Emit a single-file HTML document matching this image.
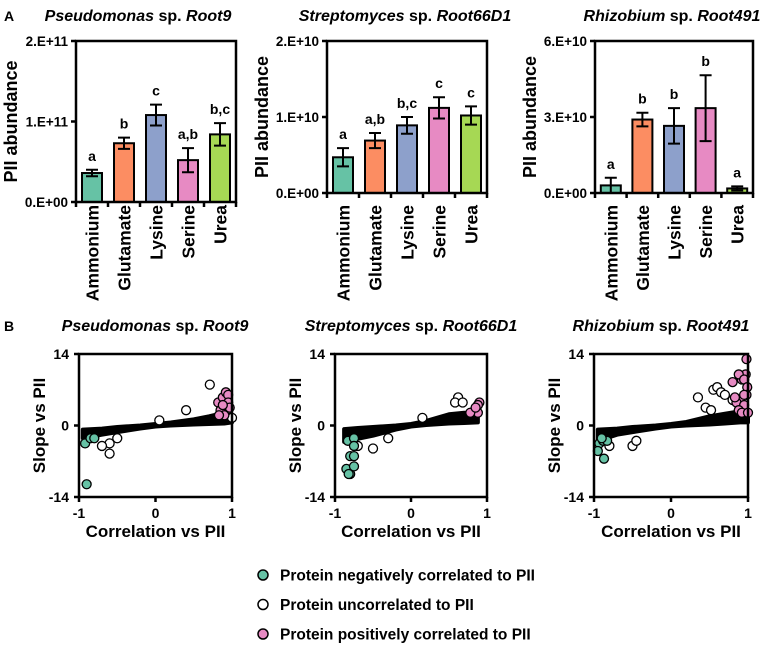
<!DOCTYPE html>
<html><head><meta charset="utf-8"><style>
body{margin:0;background:#fff;width:770px;height:649px;overflow:hidden}
svg{font-family:"Liberation Sans",Arial,sans-serif;font-weight:bold}
</style></head><body>
<svg id="c" width="770" height="649" xmlns="http://www.w3.org/2000/svg"></svg>
<script>
const categories=["Ammonium","Glutamate","Lysine","Serine","Urea"];
const colors=["#66c2a5","#fc8d62","#8da0cb","#e78ac3","#a6d854"];
const pseudoVals=[0.36,0.73,1.08,0.52,0.84];
const pseudoErr=[0.04,0.07,0.13,0.15,0.14];
const pseudoLetters=["a","b","c","a,b","b,c"];
const strepVals=[0.47,0.69,0.89,1.12,1.02];
const strepErr=[0.12,0.10,0.11,0.14,0.12];
const strepLetters=["a","a,b","b,c","c","c"];
const rhizoVals=[0.3,2.9,2.65,3.35,0.18];
const rhizoErr=[0.3,0.27,0.7,1.3,0.08];
const rhizoLetters=["a","b","b","b","a"];
const pseudoTicks=["0.E+00","1.E+11","2.E+11"];
const strepTicks=["0.E+00","1.E+10","2.E+10"];
const rhizoTicks=["0.E+00","3.E+10","6.E+10"];
const pseudoBandX=[-0.95,-0.7,-0.5,-0.2,0,0.2,0.5,0.7,0.9,1.0];
const pseudoBandLo=[-2.5,-1.8,-1.3,-0.6,-0.2,0,0.2,0.3,0.4,0.6];
const pseudoBandHi=[-0.8,-0.6,-0.3,0,0.3,0.6,1.2,1.8,2.5,1.8];
const pseudoOpen=[[0.71,8],[0.4,3],[-0.6,-3.5],[-0.6,-5.5],[-0.7,-4],[-0.5,-2.5],[1.0,1.5],[0.05,1]];
const pseudoNeg=[[-0.92,-3.5],[-0.85,-2.5],[-0.8,-2.5],[-0.9,-11.5]];
const pseudoPos=[[0.82,4.5],[0.88,5.5],[0.92,6.5],[0.95,6],[0.95,4.5],[0.93,3],[0.85,3],[0.9,2],[0.83,2],[0.97,3.5],[0.88,4]];
const strepBandX=[-0.88,-0.7,-0.5,-0.2,0,0.2,0.5,0.7,0.88];
const strepBandLo=[-3.2,-2.6,-2,-0.8,-0.2,0.1,0.4,0.5,0.6];
const strepBandHi=[-0.7,-0.5,-0.3,0,0.3,0.9,2.2,2.5,2.2];
const strepOpen=[[0.62,5.5],[0.58,4.5],[0.68,4.5],[-0.5,-4.5],[-0.3,-2.5],[-0.7,-4],[0.15,1.5]];
const strepNeg=[[-0.83,-3],[-0.75,-2.5],[-0.75,-4],[-0.8,-6],[-0.75,-6],[-0.85,-8.5],[-0.8,-9.5],[-0.75,-8],[-0.82,-9.5]];
const strepPos=[[0.9,4.5],[0.88,4],[0.88,2.5],[0.78,2.5],[0.85,3.5]];
const rhizoBandX=[-0.95,-0.7,-0.5,-0.2,0,0.2,0.5,0.7,0.9,1.0];
const rhizoBandLo=[-3,-1.8,-1.3,-0.6,-0.2,0,0.2,0.4,0.6,0.6];
const rhizoBandHi=[-0.8,-0.6,-0.3,0,0.3,0.7,1.8,2.3,2.8,2.8];
const rhizoOpen=[[0.35,5.5],[0.55,7],[0.6,7.5],[0.65,6.5],[0.7,6],[0.45,3.5],[0.52,3],[-0.5,-4],[-0.8,-4],[-0.45,-3],[0.8,5]];
const rhizoNeg=[[-0.93,-3.5],[-0.88,-3],[-0.83,-3],[-0.95,-5],[-0.87,-6.5],[-0.9,-2.5]];
const rhizoPos=[[0.98,13],[0.97,10],[0.92,9],[0.88,10],[0.8,8.5],[0.95,9],[0.99,7.5],[0.98,6],[0.9,5],[0.85,4.5],[0.95,4],[0.88,3],[0.92,2.5],[1,2.5],[0.95,6],[0.83,5.5]];

const S=document.getElementById('c');const NS="http://www.w3.org/2000/svg";
function el(t,a,txt,p){const e=document.createElementNS(NS,t);for(const k in a)e.setAttribute(k,a[k]);if(txt!=null)e.textContent=txt;(p||S).appendChild(e);return e;}

function title(x,y,genus,strain,name){
 const t=el('text',{x:x,y:y,'font-size':16,'text-anchor':'middle'});
 
 
 el('tspan',{'font-style':'italic'},genus,t);el('tspan',{},' sp. ',t);el('tspan',{'font-style':'italic'},strain,t);
}

function barChart(name,x0,x1,yTop,y0,ymax,vals,errs,letters,ticks){
 const g=el('g',{});
 
 
 const ys=v=>y0-(v/ymax)*(y0-yTop);
 const step=(x1-x0)/categories.length;
 vals.forEach((v,i)=>{
  const cx=x0+step*(i+0.5);
  const r=el('rect',{x:cx-10,y:ys(v),width:20,height:y0-ys(v),fill:colors[i],stroke:'#000','stroke-width':2},null,g);
  
  
  const hi=ys(v+errs[i]),lo=ys(Math.max(0,v-errs[i]));
  const e=el('path',{d:`M${cx},${hi}V${lo}M${cx-6},${hi}H${cx+6}M${cx-6},${lo}H${cx+6}`,stroke:'#000','stroke-width':2,fill:'none'},null,g);
  
  
  const l=el('text',{x:cx,y:hi-9,'font-size':14,'text-anchor':'middle'},letters[i],g);
  
  
  const c=el('text',{transform:`translate(${cx+6.5},205) rotate(-90)`,'font-size':17.5,'text-anchor':'end'},categories[i],g);
  
  
  el('line',{x1:cx-step/2,x2:cx-step/2,y1:y0,y2:y0+5,stroke:'#000','stroke-width':2.5},null,g);
 });
 el('line',{x1:x1,x2:x1,y1:y0,y2:y0+5,stroke:'#000','stroke-width':2.5},null,g);
 const f=el('path',{d:`M${x0},${yTop}H${x1}V${y0}H${x0}Z`,fill:'none',stroke:'#000','stroke-width':2.5},null,g);
 
 
 ticks.forEach((t,i)=>{const y=ys(ymax*i/(ticks.length-1));
  el('line',{x1:x0-5,x2:x0,y1:y,y2:y,stroke:'#000','stroke-width':2.5},null,g);
  const tl=el('text',{x:x0-8,y:y+5,'font-size':13.5,'text-anchor':'end'},t,g);
  
  });
 const yt=el('text',{transform:`translate(${x0-59},${(yTop+y0)/2}) rotate(-90)`,'font-size':18,'text-anchor':'middle'},'PII abundance',g);
 
 
}

function scatter(name,x0,x1,yTop,y1,bx,blo,bhi,open,neg,pos){
 const g=el('g',{});
 
 
 const xs=v=>x0+(v+1)/2*(x1-x0), ys=v=>yTop+(14-v)/28*(y1-yTop);
 let d='M'+bx.map((x,i)=>xs(x)+','+ys(bhi[i])).join('L');
 d+='L'+bx.map((x,i)=>xs(x)+','+ys(blo[i])).reverse().join('L')+'Z';
 const b=el('path',{d:d,fill:'#000',stroke:'#000','stroke-width':4,'stroke-linejoin':'round'},null,g);
 
 
 const pts=(arr,fill,nm)=>arr.forEach(p=>{const c=el('circle',{cx:xs(p[0]),cy:ys(p[1]),r:4.5,fill:fill,stroke:'#000','stroke-width':1.3},null,g);
  
  });
 pts(open,'#fff','uncorrelated-point');pts(neg,'#66c2a5','negative-point');pts(pos,'#e78ac3','positive-point');
 const f=el('path',{d:`M${x0},${yTop}H${x1}V${y1}H${x0}Z`,fill:'none',stroke:'#000','stroke-width':2.5},null,g);
 
 
 [[14,'14'],[0,'0'],[-14,'-14']].forEach(t=>{const y=ys(t[0]);
  el('line',{x1:x0-5,x2:x0,y1:y,y2:y,stroke:'#000','stroke-width':2.5},null,g);
  const tl=el('text',{x:x0-10,y:y+5,'font-size':14,'text-anchor':'end'},t[1],g);
  
  });
 [[-1,'-1'],[0,'0'],[1,'1']].forEach(t=>{const x=xs(t[0]);
  el('line',{x1:x,x2:x,y1:y1,y2:y1+5,stroke:'#000','stroke-width':2.5},null,g);
  const tl=el('text',{x:x,y:y1+21,'font-size':14,'text-anchor':'middle'},t[1],g);
  
  });
 const xt=el('text',{x:(x0+x1)/2,y:y1+40,'font-size':17,'text-anchor':'middle'},'Correlation vs PII',g);
 
 
 const yt=el('text',{transform:`translate(${x0-34},${(yTop+y1)/2}) rotate(-90)`,'font-size':17,'text-anchor':'middle'},'Slope vs PII',g);
 
 
}

const pa=el('text',{x:4,y:21,'font-size':14},'A');


const pb=el('text',{x:4,y:331,'font-size':14},'B');


title(138,21,'Pseudomonas','Root9','title-pseudomonas-a');
title(405,21,'Streptomyces','Root66D1','title-streptomyces-a');
title(672,21,'Rhizobium','Root491','title-rhizobium-a');
barChart('bar-chart-pseudomonas',76,236,41,202,2,pseudoVals,pseudoErr,pseudoLetters,pseudoTicks);
barChart('bar-chart-streptomyces',327,487,41,193,2,strepVals,strepErr,strepLetters,strepTicks);
barChart('bar-chart-rhizobium',595,753,41,193,6,rhizoVals,rhizoErr,rhizoLetters,rhizoTicks);
title(155,331,'Pseudomonas','Root9','title-pseudomonas-b');
title(411,331,'Streptomyces','Root66D1','title-streptomyces-b');
title(661,331,'Rhizobium','Root491','title-rhizobium-b');
scatter('scatter-pseudomonas',79,232,354,497,pseudoBandX,pseudoBandLo,pseudoBandHi,pseudoOpen,pseudoNeg,pseudoPos);
scatter('scatter-streptomyces',335,487,354,497,strepBandX,strepBandLo,strepBandHi,strepOpen,strepNeg,strepPos);
scatter('scatter-rhizobium',594,748,354,497,rhizoBandX,rhizoBandLo,rhizoBandHi,rhizoOpen,rhizoNeg,rhizoPos);
const legend=[['#66c2a5','Protein negatively correlated to PII'],['#fff','Protein uncorrelated to PII'],['#e78ac3','Protein positively correlated to PII']];
legend.forEach((l,i)=>{const y=575+i*29.5;const g=el('g',{});
 
 
 el('circle',{cx:263,cy:y,r:5,fill:l[0],stroke:'#000','stroke-width':1.5},null,g);
 el('text',{x:280,y:y+5.5,'font-size':15.5},l[1],g);});
</script>
</body></html>
